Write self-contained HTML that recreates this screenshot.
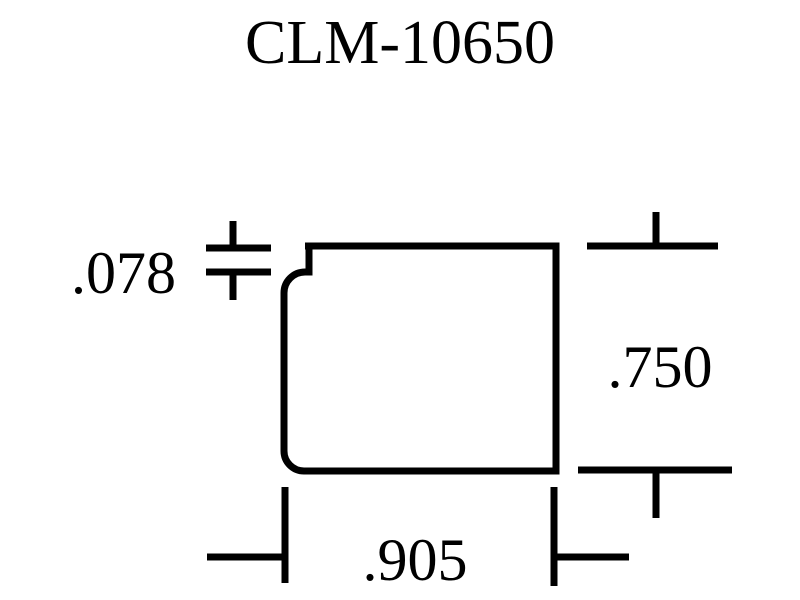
<!DOCTYPE html>
<html><head><style>body{margin:0;background:#fff}svg{display:block}</style></head>
<body>
<svg width="800" height="600" viewBox="0 0 800 600" xmlns="http://www.w3.org/2000/svg">
<g font-family="Liberation Serif, serif" fill="#000">
<text x="400" y="63" font-size="62" text-anchor="middle">CLM-10650</text>
<text x="176" y="293" font-size="60" text-anchor="end">.078</text>
<text x="660" y="387" font-size="60" text-anchor="middle">.750</text>
<text x="415" y="580" font-size="60" text-anchor="middle">.905</text>
</g>
<g stroke="#000" stroke-width="7" fill="none" stroke-linecap="butt">
<path d="M305 246 H556 V471 H304 A20 20 0 0 1 284 451 V293 A21 21 0 0 1 305 272 H309 V246" stroke-linejoin="miter"/>
<line x1="206" y1="248" x2="271" y2="248"/>
<line x1="206" y1="272" x2="271" y2="272"/>
<line x1="233" y1="221" x2="233" y2="248"/>
<line x1="233" y1="272" x2="233" y2="300"/>
<line x1="587" y1="246" x2="718" y2="246"/>
<line x1="656" y1="212" x2="656" y2="246"/>
<line x1="578" y1="470" x2="732" y2="470"/>
<line x1="656" y1="470" x2="656" y2="518"/>
<line x1="285" y1="487" x2="285" y2="583"/>
<line x1="207" y1="557" x2="285" y2="557"/>
<line x1="554" y1="487" x2="554" y2="586"/>
<line x1="554" y1="557" x2="629" y2="557"/>
</g>
</svg>
</body></html>
